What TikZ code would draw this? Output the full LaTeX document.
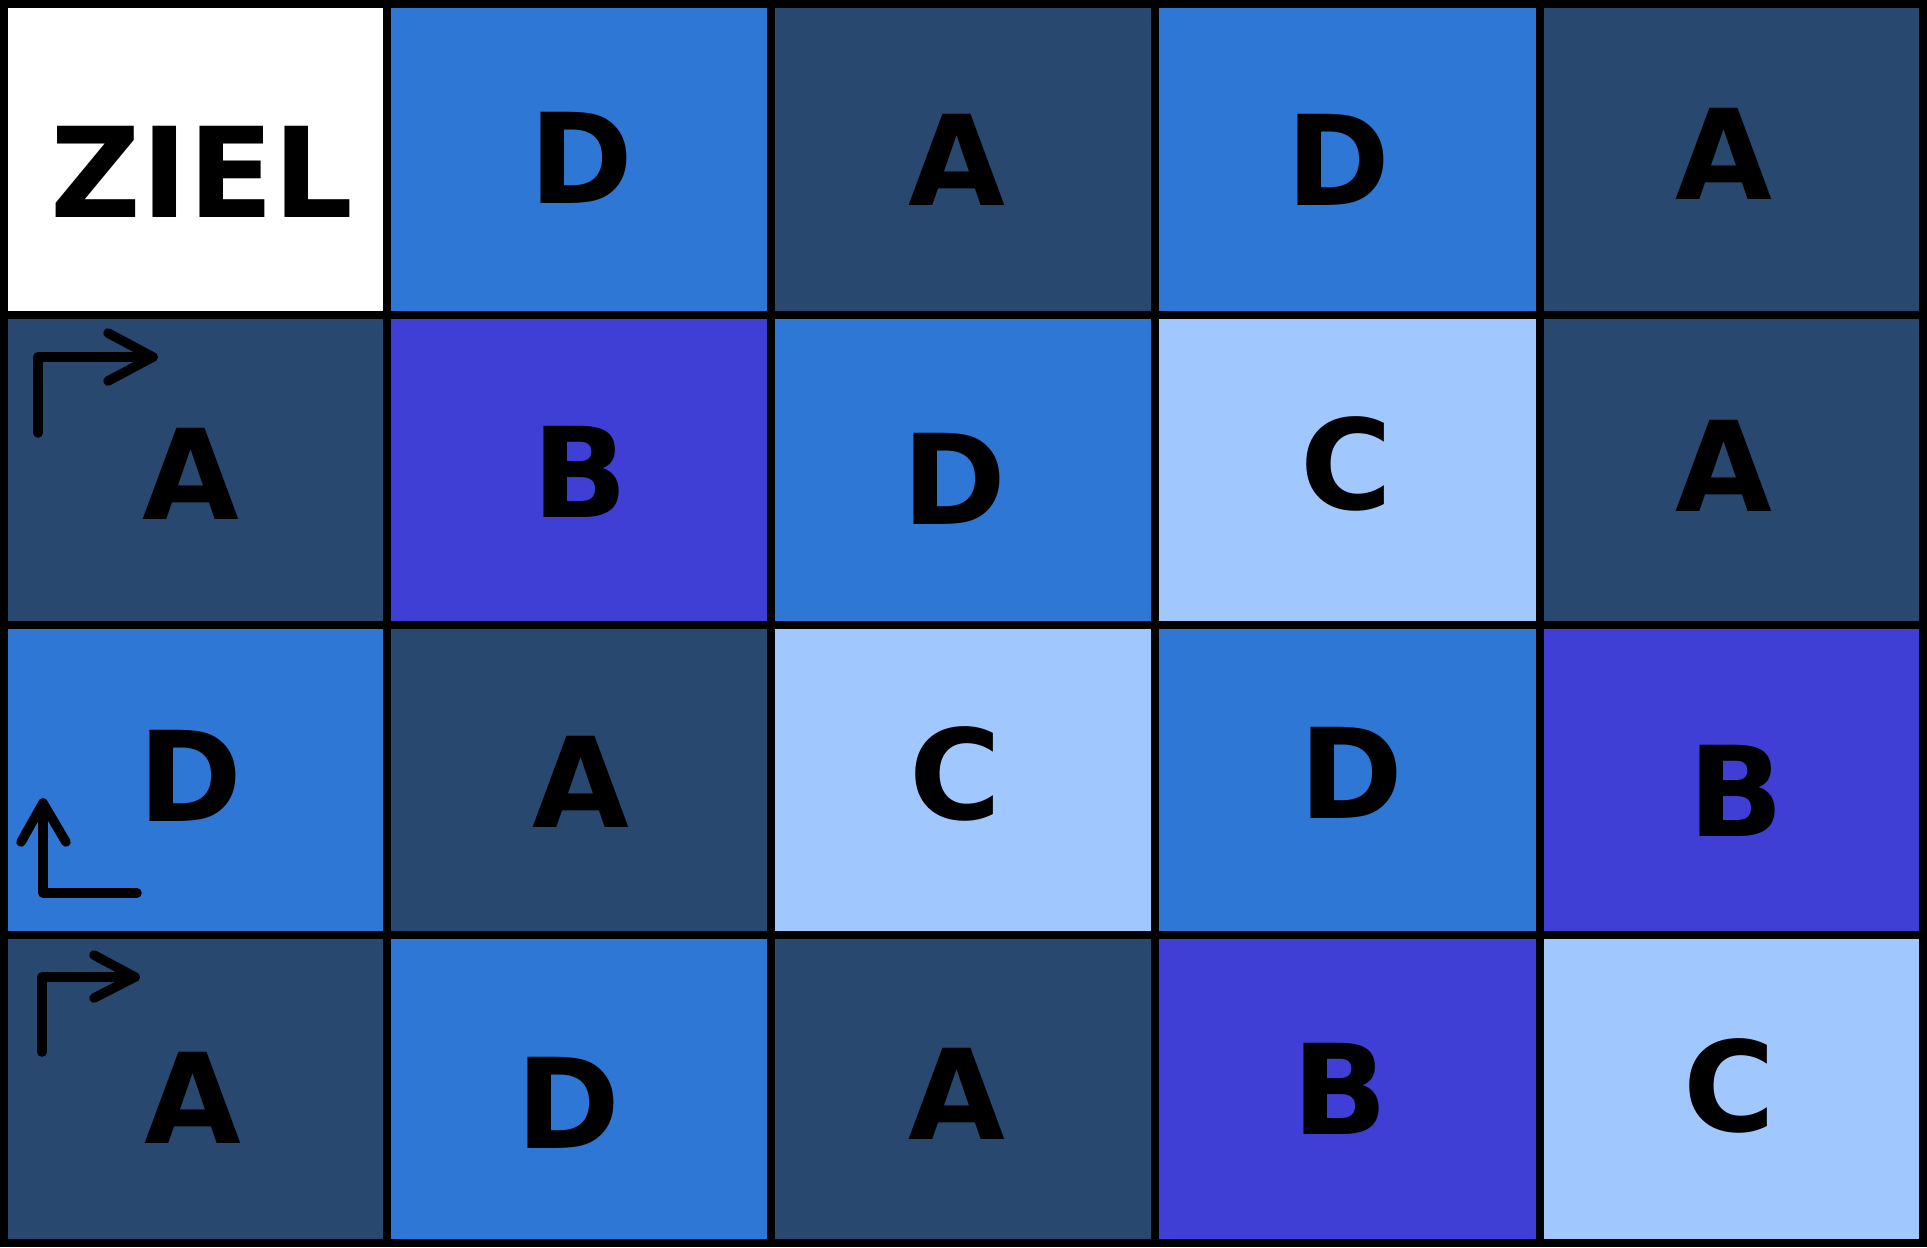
\documentclass[tikz,border=0pt]{standalone}
\usepackage{fontspec}
\setmainfont{DejaVu Sans}
\usetikzlibrary{calc}
\definecolor{navy}{HTML}{284870}
\definecolor{midblue}{HTML}{2E77D5}
\definecolor{indigo}{HTML}{3F3FD5}
\definecolor{lightblue}{HTML}{A0C8FE}
\tikzset{
  letter/.style={font=\fontsize{35.6pt}{40pt}\selectfont\bfseries, inner sep=0pt, anchor=base, text=black},
  gridline/.style={line width=0.08cm, line cap=rect},
  turn/.style={line width=0.095cm, line cap=round, line join=round}
}
\begin{document}
\begin{tikzpicture}[x=0.01cm, y=-0.01cm]
\useasboundingbox (0,0) rectangle (1927,1247);
% cell fills
\foreach \xa/\ya/\xb/\yb/\col in {
  4/4/387/315/white, 387/4/771/315/midblue, 771/4/1155/315/navy, 1155/4/1540/315/midblue, 1540/4/1923/315/navy,
  4/315/387/625/navy, 387/315/771/625/indigo, 771/315/1155/625/midblue, 1155/315/1540/625/lightblue, 1540/315/1923/625/navy,
  4/625/387/935/midblue, 387/625/771/935/navy, 771/625/1155/935/lightblue, 1155/625/1540/935/midblue, 1540/625/1923/935/indigo,
  4/935/387/1243/navy, 387/935/771/1243/midblue, 771/935/1155/1243/navy, 1155/935/1540/1243/indigo, 1540/935/1923/1243/lightblue}
  \fill[\col] (\xa,\ya) rectangle (\xb,\yb);
% grid
\draw[gridline] (4,4) rectangle (1923,1243);
\foreach \x in {387,771,1155,1540} \draw[gridline] (\x,4) -- (\x,1243);
\foreach \y in {315,625,935} \draw[gridline] (4,\y) -- (1923,\y);
% letters
\node[letter] (ziel) at (202,217) {ZIEL};
\node[letter] (r1c2) at (581,203) {D};
\node[letter] (r1c3) at (957,205) {A};
\node[letter] (r1c4) at (1338,205) {D};
\node[letter] (r1c5) at (1724,199) {A};
\node[letter] (r2c1) at (191,519) {A};
\node[letter] (r2c2) at (580,517) {B};
\node[letter] (r2c3) at (954,524) {D};
\node[letter] (r2c4) at (1346,509) {C};
\node[letter] (r2c5) at (1724,511) {A};
\node[letter] (r3c1) at (190,821) {D};
\node[letter] (r3c2) at (581,827) {A};
\node[letter] (r3c3) at (955,819) {C};
\node[letter] (r3c4) at (1351,818) {D};
\node[letter] (r3c5) at (1736,836) {B};
\node[letter] (r4c1) at (193,1143) {A};
\node[letter] (r4c2) at (568,1148) {D};
\node[letter] (r4c3) at (957,1139) {A};
\node[letter] (r4c4) at (1340,1134) {B};
\node[letter] (r4c5) at (1729,1131) {C};
% turn arrows
\coordinate (a1s) at (38,433);
\coordinate (a1t) at (153,357);
\draw[turn] (a1s) |- (a1t);
\draw[turn] ($(a1t)+(-45,-24)$) -- (a1t) -- ($(a1t)+(-45,24)$);
\coordinate (a2s) at (137,893);
\coordinate (a2t) at (43,803);
\draw[turn] (a2s) -| (a2t);
\draw[turn] ($(a2t)+(-22,39)$) -- (a2t) -- ($(a2t)+(23,39)$);
\coordinate (a3s) at (42,1052);
\coordinate (a3t) at (135,977);
\draw[turn] (a3s) |- (a3t);
\draw[turn] ($(a3t)+(-41,-22)$) -- (a3t) -- ($(a3t)+(-41,21)$);
\end{tikzpicture}
\end{document}
